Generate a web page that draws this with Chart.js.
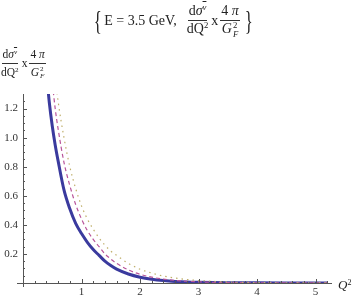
<!DOCTYPE html>
<html>
<head>
<meta charset="utf-8">
<script src="https://cdn.jsdelivr.net/npm/chart.js@4.4.1/dist/chart.umd.min.js"></script>
<style>
  html, body { margin: 0; padding: 0; background: #fff; }
  #wrap { position: relative; width: 354px; height: 299px; overflow: hidden; font-family: "Liberation Serif", serif; color: #222; }
  #chart { position: absolute; left: 0; top: 0; }
  .row { position: absolute; display: flex; align-items: center; white-space: nowrap; }
  .frac { display: inline-flex; flex-direction: column; align-items: center; margin: 0 2px; }
  .frac > span { padding: 0 1px; line-height: 1.2; }
  .frac > span:first-child { border-bottom: 1px solid #333; }
  #ylab .frac > span { line-height: 1.45; }
  .ss { display: inline-flex; flex-direction: column; font-size: 0.62em; line-height: 1; vertical-align: middle; margin-left: 1px; }
  .bar { text-decoration: overline; }
  sup { font-size: 0.62em; vertical-align: 0.55em; line-height: 0; }
  .br { font-size: 28px; transform: scaleX(0.6); display: inline-block; }
</style>
</head>
<body>
<div id="wrap">
  <canvas id="chart" width="354" height="299"></canvas>
  <div class="row" id="title" style="left:0; width:346px; justify-content:center; top:3px; font-size:14px;">
    <span class="br">{</span><span>E = 3.5 GeV,&nbsp;&nbsp;</span>
    <span class="frac"><span>d<i>σ</i><sup><i class="bar">ν</i></sup></span><span>dQ<sup>2</sup></span></span>
    <span>x</span>
    <span class="frac"><span>4 <i>π</i></span><span><i>G</i><span class="ss"><span>2</span><i>F</i></span></span></span>
    <span class="br">}</span>
  </div>
  <div class="row" id="ylab" style="left:0px; top:46px; font-size:11.5px;">
    <span class="frac" style="margin-left:0"><span>d<i>σ</i><sup><i class="bar">ν</i></sup></span><span>dQ<sup>2</sup></span></span>
    <span>x</span>
    <span class="frac"><span>4 <i>π</i></span><span><i>G</i><span class="ss"><span>2</span><i>F</i></span></span></span>
  </div>
  <div style="position:absolute; left:338px; top:277px; font-size:13px;"><i>Q</i><sup>2</sup></div>
</div>
<script>
// Q^2 grid (GeV^2)
var q2 = [0.40, 0.45, 0.50, 0.55, 0.60, 0.70, 0.80, 0.90, 1.00, 1.10, 1.20, 1.30, 1.40, 1.50, 1.60, 1.80, 2.00, 2.20, 2.40, 2.60, 2.80, 3.00, 3.50, 4.00, 4.50, 5.00, 5.20];
// solid blue curve
var solid = [1.45, 1.24, 1.08, 0.95, 0.84, 0.64, 0.51, 0.41, 0.34, 0.28, 0.23, 0.19, 0.15, 0.12, 0.095, 0.062, 0.040, 0.026, 0.017, 0.011, 0.007, 0.005, 0.002, 0.001, 0.0005, 0.0002, 0.0001];
// dashed magenta curve
var dashed = [1.75, 1.55, 1.38, 1.20, 1.06, 0.83, 0.67, 0.54, 0.44, 0.36, 0.30, 0.25, 0.20, 0.165, 0.135, 0.09, 0.06, 0.04, 0.027, 0.018, 0.012, 0.008, 0.003, 0.0015, 0.0007, 0.0003, 0.0002];
// dotted yellow curve
var dotted = [2.1, 1.9, 1.65, 1.42, 1.25, 1.0, 0.80, 0.65, 0.53, 0.44, 0.37, 0.31, 0.26, 0.22, 0.19, 0.135, 0.095, 0.068, 0.048, 0.034, 0.024, 0.017, 0.007, 0.003, 0.0013, 0.0006, 0.0004];
var xTicks = [1, 2, 3, 4, 5];
var yTicks = [0.2, 0.4, 0.6, 0.8, 1.0, 1.2];

function pts(ys) {
	return q2.map(function(x, i) { return {x: x, y: ys[i]}; });
}

var axisColor = '#555';

// Mathematica style axes: ticks drawn inward from the axis lines
var axesPlugin = {
	id: 'axes',
	afterDraw: function(chart) {
		var c = chart.ctx, xs = chart.scales.x, ys = chart.scales.y;
		var x0 = xs.getPixelForValue(0), y0 = ys.getPixelForValue(0);
		c.save();
		c.strokeStyle = axisColor;
		c.lineWidth = 1;
		c.beginPath();
		c.moveTo(x0 - 6, y0 + 0.5); c.lineTo(xs.right, y0 + 0.5);
		c.moveTo(x0 + 0.5, y0 + 4); c.lineTo(x0 + 0.5, ys.top);
		for (var v = 0.2; v < xs.max; v += 0.2) {
			var px = Math.round(xs.getPixelForValue(v)) + 0.5;
			var major = Math.abs(v - Math.round(v)) < 1e-6;
			c.moveTo(px, y0); c.lineTo(px, y0 - (major ? 4 : 2));
		}
		for (var w = 0.05; w < ys.max; w += 0.05) {
			var py = Math.round(ys.getPixelForValue(w)) + 0.5;
			var maj = Math.abs(w * 5 - Math.round(w * 5)) < 1e-6;
			c.moveTo(x0, py); c.lineTo(x0 + (maj ? 4 : 2), py);
		}
		c.stroke();
		c.restore();
	}
};

new Chart(document.getElementById('chart').getContext('2d'), {
	type: 'line',
	data: {
		datasets: [{
			data: pts(dotted),
			borderColor: '#bfae6a',
			borderWidth: 1.2,
			borderDash: [1.5, 4],
			pointRadius: 0,
			cubicInterpolationMode: 'monotone'
		}, {
			data: pts(dashed),
			borderColor: '#b9559a',
			borderWidth: 1.2,
			borderDash: [4, 3],
			pointRadius: 0,
			cubicInterpolationMode: 'monotone'
		}, {
			data: pts(solid),
			borderColor: '#3a3a9e',
			borderWidth: 3,
			pointRadius: 0,
			cubicInterpolationMode: 'monotone'
		}]
	},
	options: {
		responsive: false,
		animation: false,
		events: [],
		layout: { padding: { top: 94, right: 22, left: 0, bottom: 0 } },
		plugins: { legend: { display: false }, tooltip: { enabled: false } },
		scales: {
			x: {
				type: 'linear', min: 0, max: 5.28,
				afterFit: function(s) { s.height = 16; },
				afterBuildTicks: function(s) { s.ticks = xTicks.map(function(v) { return {value: v}; }); },
				grid: { display: false, drawTicks: false },
				border: { display: false },
				ticks: { color: '#333', padding: 3, font: { family: 'Liberation Serif', size: 11 }, callback: function(v) { return v; } }
			},
			y: {
				type: 'linear', min: 0, max: 1.3,
				afterFit: function(s) { s.width = 23; },
				afterBuildTicks: function(s) { s.ticks = yTicks.map(function(v) { return {value: v}; }); },
				grid: { display: false, drawTicks: false },
				border: { display: false },
				ticks: { color: '#333', padding: 5, font: { family: 'Liberation Serif', size: 11 }, callback: function(v) { return v.toFixed(1); } }
			}
		}
	},
	plugins: [axesPlugin]
});
</script>
</body>
</html>
